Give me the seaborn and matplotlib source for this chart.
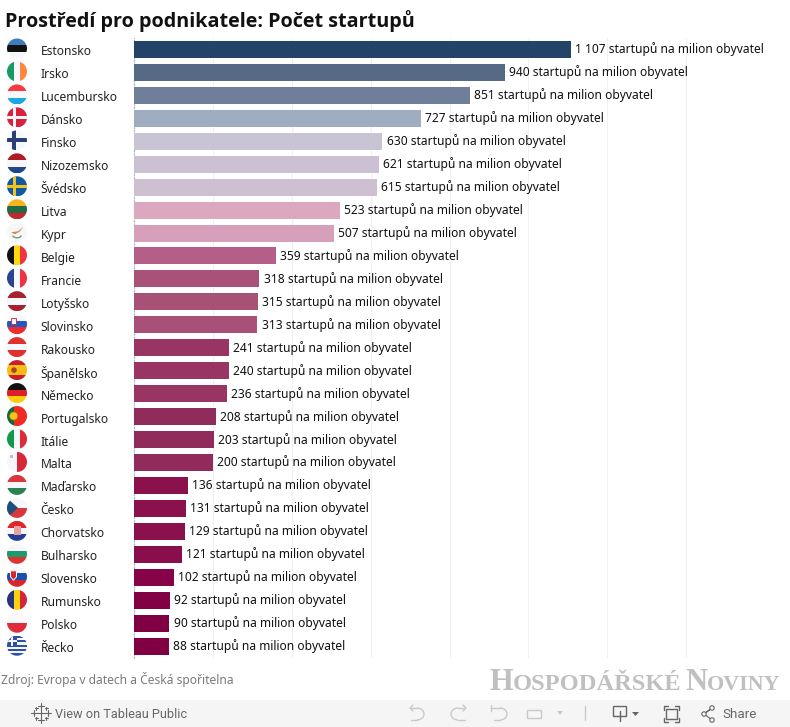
import pandas as pd
import matplotlib
matplotlib.use("Agg")
import matplotlib.pyplot as plt
from matplotlib.patches import Circle, Rectangle, Polygon, Arc
from matplotlib.transforms import ScaledTranslation
import seaborn as sns

countries = ["Estonsko", "Irsko", "Lucembursko", "Dánsko", "Finsko", "Nizozemsko", "Švédsko",
             "Litva", "Kypr", "Belgie", "Francie", "Lotyšsko", "Slovinsko", "Rakousko",
             "Španělsko", "Německo", "Portugalsko", "Itálie", "Malta", "Maďarsko", "Česko",
             "Chorvatsko", "Bulharsko", "Slovensko", "Rumunsko", "Polsko", "Řecko"]
values = [1107, 940, 851, 727, 630, 621, 615, 523, 507, 359, 318, 315, 313, 241, 240, 236,
          208, 203, 200, 136, 131, 129, 121, 102, 92, 90, 88]
bar_colors = ["#234369", "#566985", "#6f7f99", "#a0adc0", "#c8c4d3", "#cbc1d2", "#cdc0d1",
              "#dca8bf", "#d6a0ba", "#b35f87", "#a85278", "#a85177", "#a85077", "#983563",
              "#983563", "#983563", "#902c5c", "#902b5b", "#902b5b", "#8a114c", "#8a114c",
              "#8a114c", "#880f4b", "#860249", "#820045", "#810044", "#810044"]
x_ticks = [0, 200, 400, 600, 800, 1000, 1200, 1400, 1600]
unit = "startupů na milion obyvatel"
title = "Prostředí pro podnikatele: Počet startupů"
source = "Zdroj: Evropa v datech a Česká spořitelna"

# flag stripes, top to bottom (h) or left to right (v)
flags = {
    "Estonsko": ("h", ["#3f7cbf", "#111111", "#f5f7fa"]),
    "Irsko": ("v", ["#169b62", "#f5f7fa", "#ff883e"]),
    "Lucembursko": ("h", ["#f93a3f", "#f5f7fa", "#1ba7df"]),
    "Dánsko": ("h", ["#d9213f"]),
    "Finsko": ("h", ["#f5f7fa"]),
    "Nizozemsko": ("h", ["#ae1c28", "#f5f7fa", "#21468b"]),
    "Švédsko": ("h", ["#0f5aa0"]),
    "Litva": ("h", ["#f6b51e", "#1f6b45", "#c1272d"]),
    "Kypr": ("h", ["#f6f7f9"]),
    "Belgie": ("v", ["#111111", "#fbd90f", "#ef3340"]),
    "Francie": ("v", ["#27448f", "#f5f7fa", "#ef3340"]),
    "Lotyšsko": ("h", ["#a4232f", "#f5f7fa", "#a4232f"]),
    "Slovinsko": ("h", ["#f5f7fa", "#2456c4", "#ef2b2d"]),
    "Rakousko": ("h", ["#e0312f", "#f5f7fa", "#e0312f"]),
    "Španělsko": ("h", ["#c8202b", "#f9bc15", "#f9bc15", "#c8202b"]),
    "Německo": ("h", ["#111111", "#dd1f26", "#fdcb0a"]),
    "Portugalsko": ("v", ["#0f6a3a", "#ee2b24", "#ee2b24"]),
    "Itálie": ("v", ["#119b48", "#f5f7fa", "#dd2b38"]),
    "Malta": ("v", ["#f5f7fa", "#d62839"]),
    "Maďarsko": ("h", ["#d9363e", "#f5f7fa", "#2a8254"]),
    "Česko": ("h", ["#f5f7fa", "#d9363e"]),
    "Chorvatsko": ("h", ["#e0262b", "#f5f7fa", "#233f93"]),
    "Bulharsko": ("h", ["#f5f7fa", "#1f9a6c", "#dc3531"]),
    "Slovensko": ("h", ["#f5f7fa", "#1a4fb0", "#d8262e"]),
    "Rumunsko": ("v", ["#26347f", "#f8d20f", "#d3263a"]),
    "Polsko": ("h", ["#faf8f8", "#df2c3c"]),
    "Řecko": ("h", ["#2f50a8", "#f5f7fa", "#2f50a8", "#f5f7fa", "#2f50a8", "#f5f7fa", "#2f50a8", "#f5f7fa", "#2f50a8"]),
}


def draw_flag(fig, name, row):
    # small circular flag, 20 px across, next to its row
    cy = 48.5 + row * 22.97
    flag_ax = fig.add_axes([6 / 790, 1 - (cy + 11) / 727, 22 / 790, 22 / 727])
    flag_ax.set_xlim(-1.1, 1.1)
    flag_ax.set_ylim(-1.1, 1.1)
    flag_ax.axis("off")
    clip = Circle((0, 0), 1, transform=flag_ax.transData)
    mode, stripes = flags[name]
    n = len(stripes)
    parts = []
    for i, c in enumerate(stripes):
        if mode == "h":
            parts.append(Rectangle((-1, 1 - 2 * (i + 1) / n), 2, 2 / n, color=c, lw=0))
        else:
            parts.append(Rectangle((-1 + 2 * i / n, -1), 2 / n, 2, color=c, lw=0))
    if name == "Dánsko":
        parts += [Rectangle((-0.45, -1), 0.3, 2, color="#f5f7fa", lw=0),
                  Rectangle((-1, -0.15), 2, 0.3, color="#f5f7fa", lw=0)]
    if name == "Finsko":
        parts += [Rectangle((-0.5, -1), 0.42, 2, color="#2a3f78", lw=0),
                  Rectangle((-1, -0.21), 2, 0.42, color="#2a3f78", lw=0)]
    if name == "Švédsko":
        parts += [Rectangle((-0.45, -1), 0.36, 2, color="#f4c31c", lw=0),
                  Rectangle((-1, -0.18), 2, 0.36, color="#f4c31c", lw=0)]
    if name == "Kypr":
        parts += [Polygon([(-0.6, 0.0), (0.1, 0.1), (0.65, 0.55), (0.25, 0.05), (-0.2, -0.2)], color="#d98a45", lw=0),
                  Arc((0, -0.25), 0.9, 0.6, theta1=190, theta2=350, color="#7f9a66", lw=1)]
    if name == "Česko":
        parts.append(Polygon([(-1, 1), (0.1, 0), (-1, -1)], color="#1c4f7c", lw=0))
    if name == "Řecko":
        parts += [Rectangle((-1, 0.0), 1.0, 1, color="#2f50a8", lw=0),
                  Rectangle((-0.62, 0), 0.22, 1, color="#f5f7fa", lw=0),
                  Rectangle((-1, 0.42), 1.0, 0.2, color="#f5f7fa", lw=0)]
    if name == "Slovinsko":
        parts.append(Rectangle((-0.6, 0.05), 0.45, 0.6, color="#f5f7fa", ec="#c8202b", lw=0.6))
    if name == "Slovensko":
        parts.append(Polygon([(-0.65, 0.6), (-0.05, 0.6), (-0.05, 0.0), (-0.35, -0.35), (-0.65, 0.0)],
                             facecolor="#d8262e", edgecolor="#f5f7fa", lw=0.7))
    if name == "Chorvatsko":
        parts.append(Rectangle((-0.35, -0.4), 0.7, 0.9, color="#e9a0a0", lw=0))
    if name == "Španělsko":
        parts.append(Circle((-0.3, 0), 0.28, color="#a8452a", lw=0))
    if name == "Portugalsko":
        parts.append(Circle((-0.33, 0), 0.4, facecolor="#f4c31c", edgecolor="#b98a10", lw=0.6))
    if name == "Malta":
        parts.append(Rectangle((-0.68, 0.42), 0.24, 0.24, color="#bfc0c4", lw=0))
    for p in parts:
        flag_ax.add_patch(p)
        p.set_clip_path(clip)


def small_caps(fig, renderer, word, x, y, big, small, color):
    # first letter larger, rest of the word smaller
    for i, part in enumerate([word[0], word[1:]]):
        t = fig.text(x / 790, 1 - y / 727, part, fontsize=big if i == 0 else small,
                     family="Liberation Serif", weight="bold", color=color, va="baseline")
        x = t.get_window_extent(renderer).x1


def main():
    sns.set_theme(style="white")
    plt.rcParams["font.family"] = ["Noto Sans", "DejaVu Sans"]

    df = pd.DataFrame({"country": countries, "value": values})

    fig = plt.figure(figsize=(7.9, 7.27), dpi=100)
    ax = fig.add_axes([134 / 790, 1 - 657.5 / 727, 631 / 790, 619.5 / 727])
    sns.barplot(data=df, x="value", y="country", hue="country", palette=bar_colors,
                width=0.74, saturation=1, dodge=False, legend=False, ax=ax, zorder=3,
                linewidth=0, edgecolor="none")
    ax.set_xlim(x_ticks[0], x_ticks[-1])
    ax.set_ylim(len(countries) - 0.5, -0.5)
    ax.set_xticks(x_ticks)
    ax.set_xlabel("")
    ax.set_ylabel("")
    ax.tick_params(axis="x", length=0, labelbottom=False)
    ax.tick_params(axis="y", length=0, pad=67.4, labelsize=8.7, labelcolor="#222222")
    down = ScaledTranslation(0, -0.7 / 72, fig.dpi_scale_trans)
    for lab in ax.get_yticklabels():
        lab.set_ha("left")
        lab.set_transform(lab.get_transform() + down)
    ax.grid(axis="x", color="#f0f0f0", lw=0.8, zorder=0)
    ax.grid(axis="y", visible=False)
    for s in ["top", "right", "bottom"]:
        ax.spines[s].set_visible(False)
    ax.spines["left"].set_color("#b5b5b5")
    ax.spines["left"].set_linestyle((0, (1, 2)))
    ax.spines["left"].set_linewidth(0.8)

    for container in ax.containers:
        for bar in container:
            v = bar.get_width()
            txt = f"{int(v):,}".replace(",", " ") + " " + unit
            ax.annotate(txt, (v, bar.get_y() + bar.get_height() / 2), xytext=(3, 0),
                        textcoords="offset points", va="center", ha="left",
                        fontsize=8.65, color="#111111", annotation_clip=False, zorder=4)

    for i, name in enumerate(countries):
        draw_flag(fig, name, i)

    fig.text(5 / 790, 1 - 27 / 727, title, fontsize=14.2, weight="bold", color="#111111",
             va="baseline", family="Open Sans")
    fig.text(1 / 790, 1 - 684 / 727, source, fontsize=8.7, color="#7a7a7a", va="baseline")

    renderer = fig.canvas.get_renderer()
    small_caps(fig, renderer, "HOSPODÁŘSKÉ", 489, 690, 22, 17.6, "#c0c0c0")
    small_caps(fig, renderer, "NOVINY", 685, 690, 22, 15.8, "#c0c0c0")

    # Tableau toolbar along the bottom
    bar_ax = fig.add_axes([0, 0, 1, 1], zorder=-1)
    bar_ax.set_xlim(0, 790)
    bar_ax.set_ylim(727, 0)
    bar_ax.axis("off")
    bar_ax.add_patch(Rectangle((0, 700), 790, 27, color="#f5f5f5", lw=0))
    gray = "#c9c9c9"
    dark = "#666666"
    bar_ax.add_patch(Arc((417, 714), 14, 12, theta1=-90, theta2=90, color=gray, lw=1))
    bar_ax.plot([411, 417], [708, 708], color=gray, lw=1)
    bar_ax.plot([413, 410, 413], [705, 708, 711], color=gray, lw=1)
    bar_ax.plot([411, 417], [720, 720], color=gray, lw=1)
    bar_ax.add_patch(Arc((458, 714), 14, 12, theta1=90, theta2=270, color=gray, lw=1))
    bar_ax.plot([458, 465], [708, 708], color=gray, lw=1)
    bar_ax.plot([463, 466, 463], [705, 708, 711], color=gray, lw=1)
    bar_ax.plot([458, 465], [720, 720], color=gray, lw=1)
    bar_ax.add_patch(Arc((500, 714), 14, 12, theta1=-90, theta2=90, color=gray, lw=1))
    bar_ax.plot([491, 500], [708, 708], color=gray, lw=1)
    bar_ax.plot([491, 491], [705, 711], color=gray, lw=1)
    bar_ax.plot([494, 500], [720, 720], color=gray, lw=1)
    bar_ax.add_patch(Rectangle((527, 710), 14, 8, fill=False, ec=gray, lw=1))
    bar_ax.add_patch(Polygon([(557, 711), (563, 711), (560, 715)], color=gray, lw=0))
    bar_ax.plot([585, 585], [706, 720], color=gray, lw=1)
    bar_ax.add_patch(Rectangle((613, 706), 13, 10, fill=False, ec=dark, lw=1))
    bar_ax.plot([619.5, 619.5], [711, 721], color=dark, lw=1)
    bar_ax.add_patch(Polygon([(632, 712), (639, 712), (635.5, 716)], color=dark, lw=0))
    bar_ax.add_patch(Rectangle((666, 709), 11, 10, fill=False, ec=dark, lw=1))
    bar_ax.plot([664, 664, 668], [710, 706, 706], color=dark, lw=1)
    bar_ax.plot([675, 679, 679], [706, 706, 710], color=dark, lw=1)
    bar_ax.plot([664, 664, 668], [718, 722, 722], color=dark, lw=1)
    bar_ax.plot([675, 679, 679], [722, 722, 718], color=dark, lw=1)
    bar_ax.plot([704, 712, 704, 712], [714, 708, 714, 720], color=dark, lw=0.8)
    for cx, cy in [(704, 714), (712, 708), (712, 720)]:
        bar_ax.add_patch(Circle((cx, cy), 2.2, fc="#f5f5f5", ec=dark, lw=0.8, zorder=3))
    # tableau mark
    for cx, cy, r in [(41, 706, 3), (41, 720, 3), (34, 713, 3), (48, 713, 3), (41, 713, 4),
                      (36, 708, 1.5), (46, 708, 1.5), (36, 718, 1.5), (46, 718, 1.5)]:
        bar_ax.plot([cx - r, cx + r], [cy, cy], color=dark, lw=0.8)
        bar_ax.plot([cx, cx], [cy - r, cy + r], color=dark, lw=0.8)
    bar_ax.text(55, 714, "View on Tableau Public", fontsize=9.2, color=dark, va="center", family="Roboto")
    bar_ax.text(722, 714, "Share", fontsize=9.6, color=dark, va="center", family="Roboto")

    fig.savefig("out.png", dpi=100)
    plt.close()


if __name__ == "__main__":
    main()
